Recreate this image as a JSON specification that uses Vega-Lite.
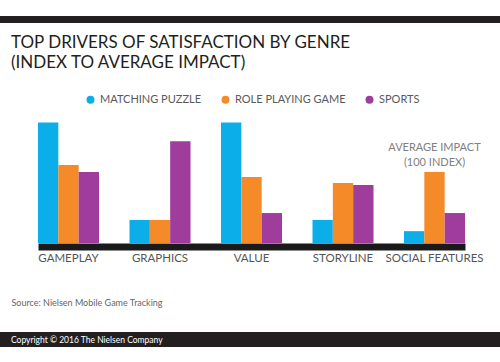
{
  "$schema": "https://vega.github.io/schema/vega-lite/v6.json",
  "background": "white",
  "padding": {"top": 16, "left": 0, "right": 0, "bottom": 0},
  "bounds": "flush",
  "center": true,
  "spacing": 89,
  "resolve": {"scale": {"color": "independent"}, "legend": {"color": "independent"}},
  "config": {"font": "Lato", "view": {"stroke": null}},
  "datasets": {
    "drivers": [
      {"driver": "GAMEPLAY", "genre": "MATCHING PUZZLE", "index": 193},
      {"driver": "GAMEPLAY", "genre": "ROLE PLAYING GAME", "index": 125},
      {"driver": "GAMEPLAY", "genre": "SPORTS", "index": 114},
      {"driver": "GRAPHICS", "genre": "MATCHING PUZZLE", "index": 37},
      {"driver": "GRAPHICS", "genre": "ROLE PLAYING GAME", "index": 37},
      {"driver": "GRAPHICS", "genre": "SPORTS", "index": 163},
      {"driver": "VALUE", "genre": "MATCHING PUZZLE", "index": 193},
      {"driver": "VALUE", "genre": "ROLE PLAYING GAME", "index": 106},
      {"driver": "VALUE", "genre": "SPORTS", "index": 48},
      {"driver": "STORYLINE", "genre": "MATCHING PUZZLE", "index": 37},
      {"driver": "STORYLINE", "genre": "ROLE PLAYING GAME", "index": 96},
      {"driver": "STORYLINE", "genre": "SPORTS", "index": 93},
      {"driver": "SOCIAL FEATURES", "genre": "MATCHING PUZZLE", "index": 19},
      {"driver": "SOCIAL FEATURES", "genre": "ROLE PLAYING GAME", "index": 114},
      {"driver": "SOCIAL FEATURES", "genre": "SPORTS", "index": 48}
    ]
  },
  "vconcat": [
    {
      "width": 503,
      "height": 7,
      "view": {"fill": "#231f20", "stroke": null},
      "title": {
        "text": ["TOP DRIVERS OF SATISFACTION BY GENRE", "(INDEX TO AVERAGE IMPACT)"],
        "orient": "bottom",
        "anchor": "start",
        "dx": 11,
        "offset": 12,
        "baseline": "top",
        "fontSize": 17,
        "fontWeight": "normal",
        "font": "Lato",
        "color": "#231f20",
        "lineHeight": 19.5
      },
      "data": {"values": [{"bar": "header"}]},
      "mark": {"type": "bar", "color": "#231f20"},
      "encoding": {
        "y": {"field": "bar", "type": "nominal", "axis": null, "scale": {"paddingInner": 0, "paddingOuter": 0}}
      }
    },
    {
      "width": 427,
      "height": 131,
      "layer": [
        {
          "data": {"name": "drivers"},
          "mark": {"type": "bar"},
          "encoding": {
            "x": {
              "field": "driver",
              "type": "nominal",
              "sort": ["GAMEPLAY", "GRAPHICS", "VALUE", "STORYLINE", "SOCIAL FEATURES"],
              "scale": {"paddingInner": 0.3333, "paddingOuter": 0},
              "axis": {
                "labelAngle": 0,
                "labelFontSize": 11.5,
                "labelColor": "#555555",
                "labelPadding": 6,
                "ticks": false,
                "tickSize": 0,
                "domainWidth": 7,
                "domainColor": "#1a1a1a",
                "offset": 3.5,
                "title": "Source: Nielsen Mobile Game Tracking",
                "titleX": -27,
                "titleY": 52,
                "titleAlign": "left",
                "titleAnchor": "start",
                "titleBaseline": "top",
                "titleFontSize": 9,
                "titleFontWeight": "normal",
                "titleColor": "#666666"
              }
            },
            "xOffset": {
              "field": "genre",
              "type": "nominal",
              "sort": ["MATCHING PUZZLE", "ROLE PLAYING GAME", "SPORTS"],
              "scale": {"paddingInner": 0, "paddingOuter": 0}
            },
            "y": {
              "field": "index",
              "type": "quantitative",
              "scale": {"domain": [0, 210], "nice": false},
              "axis": null
            },
            "color": {
              "field": "genre",
              "type": "nominal",
              "scale": {
                "domain": ["MATCHING PUZZLE", "ROLE PLAYING GAME", "SPORTS"],
                "range": ["#0BAEE8", "#F58A28", "#A03C9B"]
              },
              "legend": {
                "orient": "none",
                "direction": "horizontal",
                "legendX": 47,
                "legendY": -18,
                "title": null,
                "symbolType": "circle",
                "symbolSize": 64,
                "symbolStrokeWidth": 0,
                "labelFontSize": 11,
                "labelColor": "#5a5a5a",
                "labelOffset": 4,
                "columnPadding": 18
              }
            }
          }
        },
        {
          "data": {"values": [{}]},
          "mark": {
            "type": "text",
            "text": ["AVERAGE IMPACT", "(100 INDEX)"],
            "baseline": "top",
            "align": "center",
            "lineHeight": 15,
            "fontSize": 11,
            "fontWeight": "normal",
            "fill": "#808080"
          },
          "encoding": {
            "x": {"datum": "SOCIAL FEATURES"},
            "y": {"datum": 162}
          }
        }
      ]
    },
    {
      "width": 503,
      "height": 15,
      "view": {"fill": "#231f20", "stroke": null},
      "title": {
        "text": "Copyright © 2016 The Nielsen Company",
        "orient": "bottom",
        "anchor": "start",
        "dx": 11,
        "offset": -4,
        "baseline": "alphabetic",
        "fontSize": 8.5,
        "fontWeight": "normal",
        "font": "Lato",
        "color": "#ffffff"
      },
      "data": {"values": [{}]},
      "mark": {"type": "text", "text": ""}
    }
  ]
}
